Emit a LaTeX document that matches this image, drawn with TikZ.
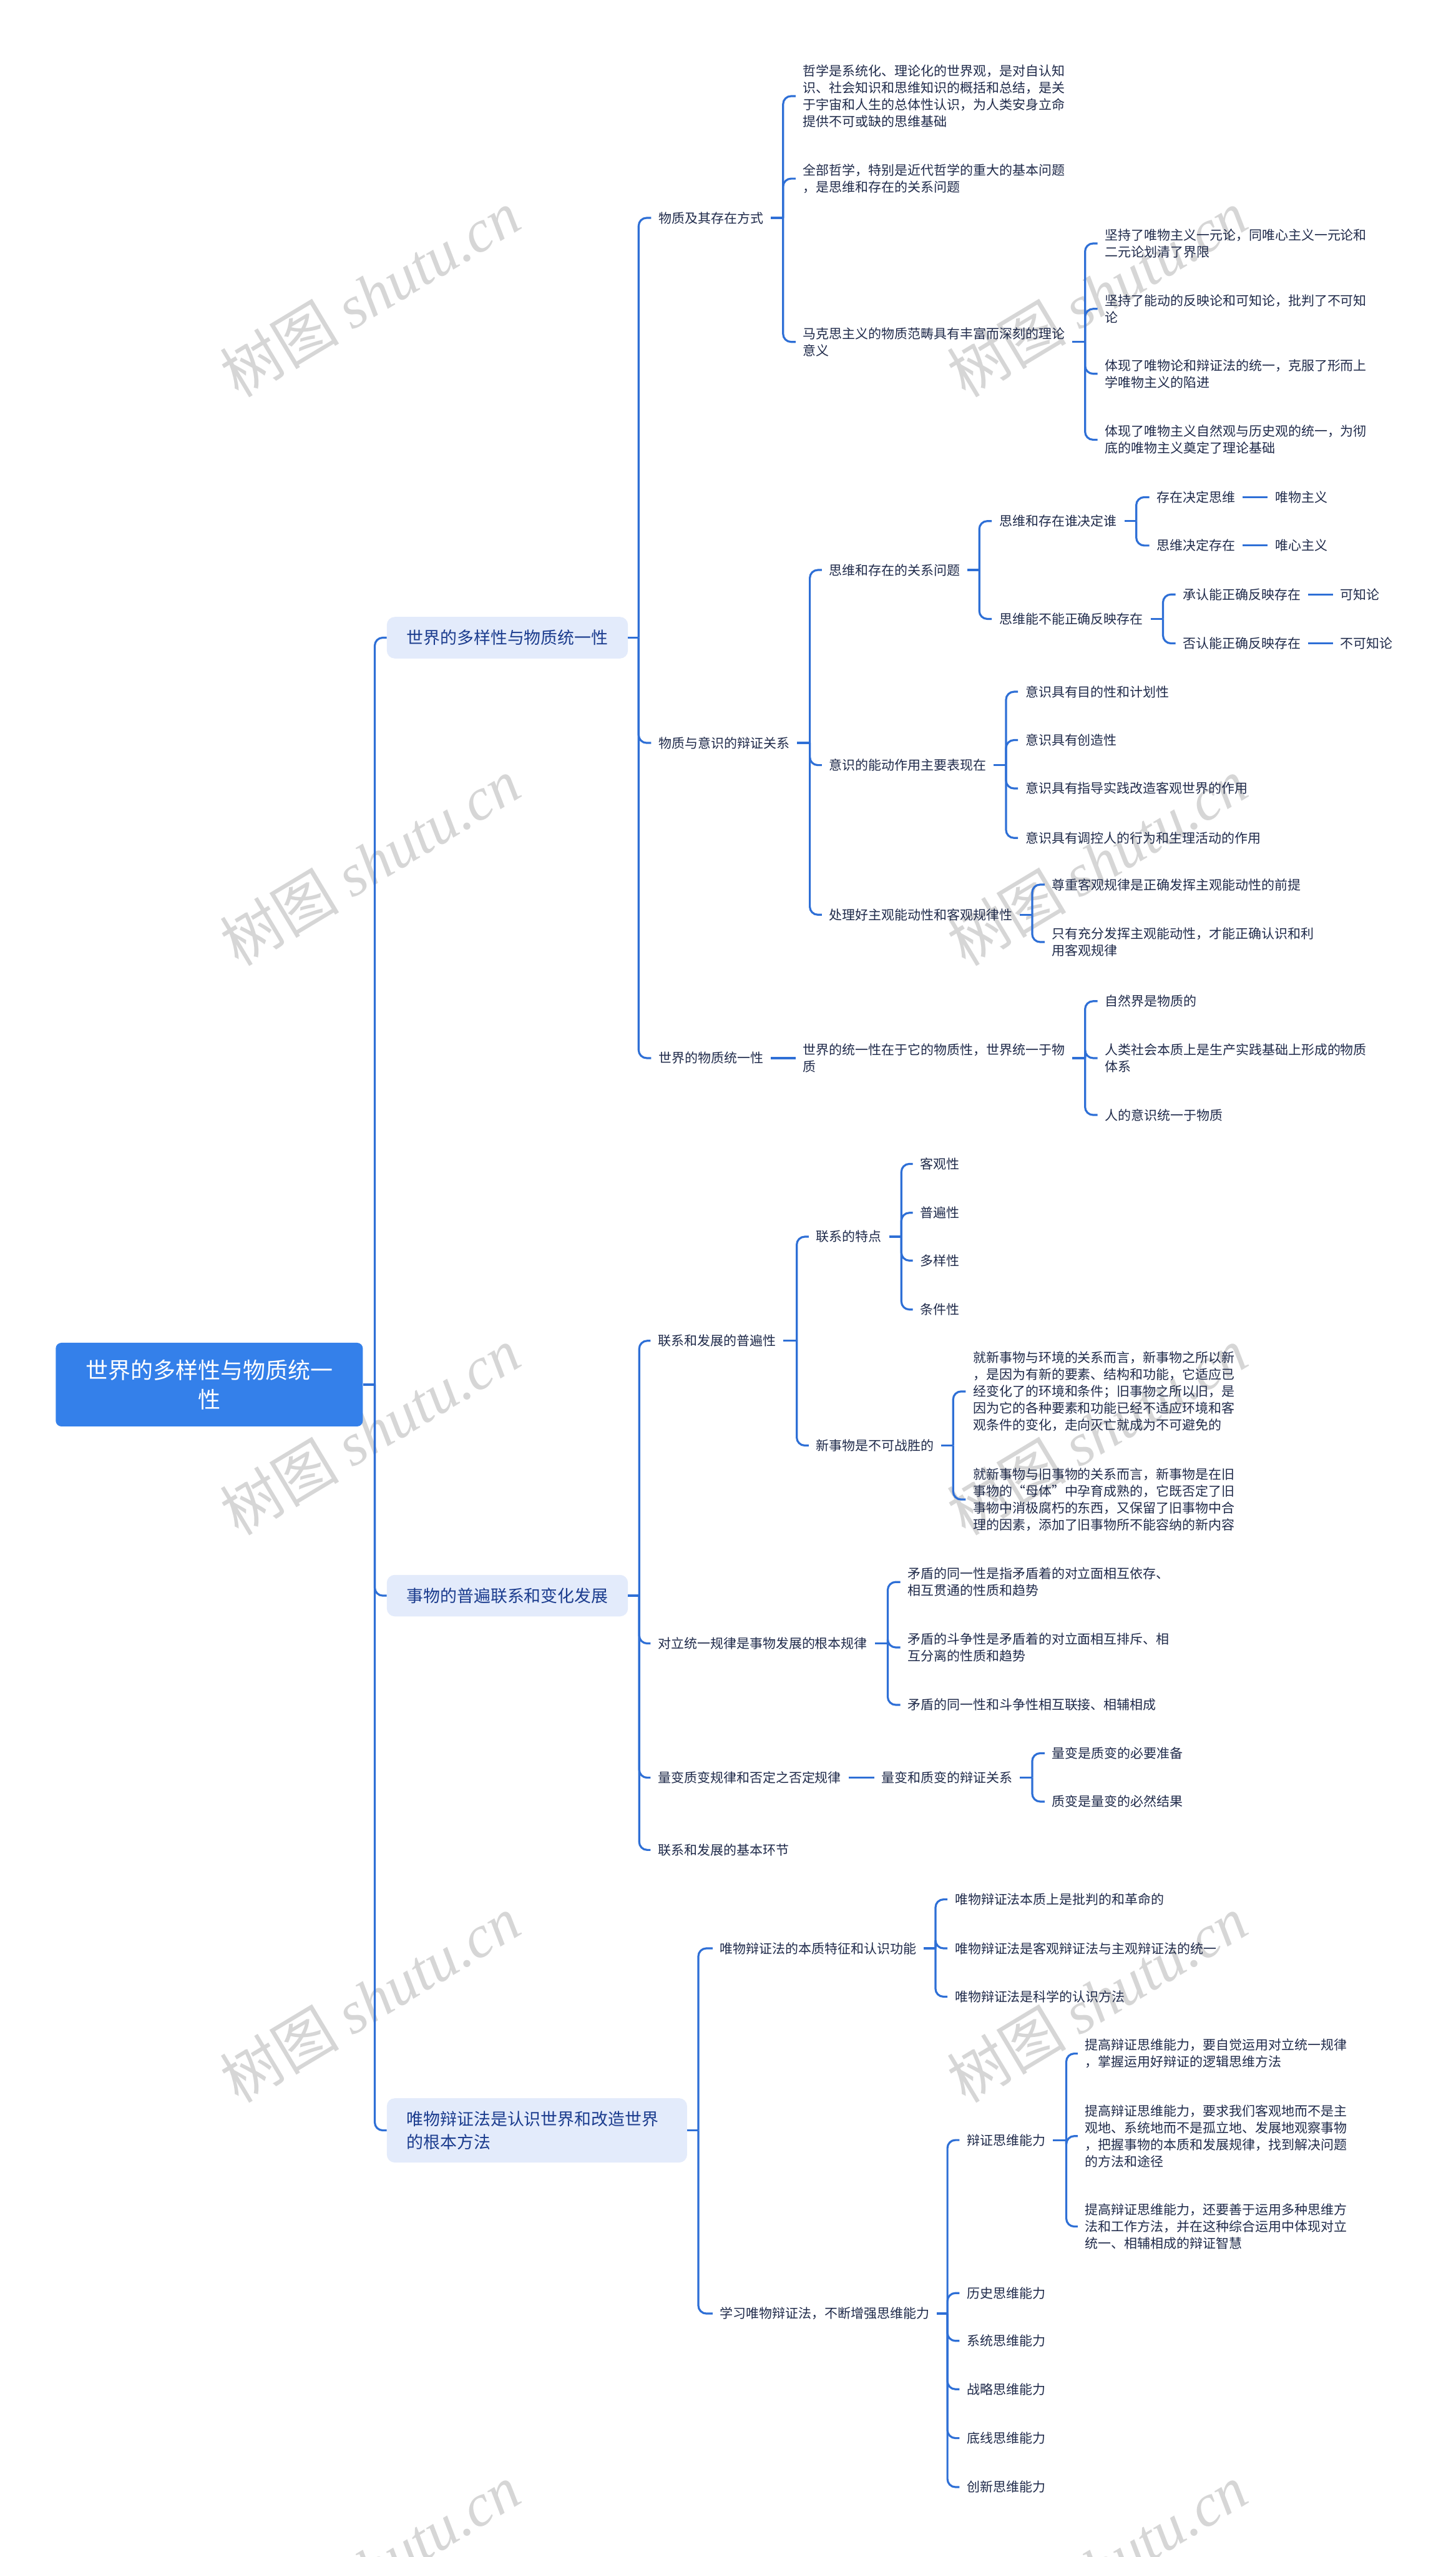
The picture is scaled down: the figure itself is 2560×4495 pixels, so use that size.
\documentclass[tikz,border=0pt]{standalone}
\usepackage{fontspec}
\setmainfont{Noto Sans CJK SC}
\newfontfamily\wmlatin{Liberation Serif}
\usetikzlibrary{calc}
\definecolor{linec}{HTML}{2E6FD6}
\definecolor{rootfill}{HTML}{3480EA}
\definecolor{lonefill}{HTML}{E3EBFB}
\definecolor{lonetext}{HTML}{1B3C8E}
\definecolor{leaftext}{HTML}{1F2A4A}
\definecolor{wmgray}{HTML}{D6D6D6}
\newcommand\mmbranch[3]{%
  \coordinate (mmv) at (#2,0);
  \draw[conn] (#1.east) -- (#1.east -| mmv);
  \foreach \mmc in {#3}{\draw[conn,rounded corners=14pt] (#1.east -| mmv) |- (\mmc.west);}%
}
\begin{document}
\begin{tikzpicture}[x=1pt,y=-1pt,
  conn/.style={draw=linec,line width=3.5pt},
  leaf/.style={anchor=west,inner xsep=13pt,inner ysep=2pt,align=left,text=leaftext,font=\fontsize{23}{29.5}\selectfont},
  rootbox/.style={fill=rootfill,rounded corners=10pt,minimum width=540pt,minimum height=147pt,inner sep=0pt,text=white,align=center,font=\fontsize{39.5}{52}\selectfont},
  lone/.style={anchor=west,fill=lonefill,rounded corners=14pt,minimum height=73pt,inner xsep=35pt,inner ysep=0pt,text=lonetext,align=center,font=\fontsize{29.5}{40}\selectfont},
  wm/.style={text=wmgray,rotate=31,inner sep=0pt,font=\fontsize{105}{105}\selectfont}]
\fill[white] (0,0) rectangle (2560,4495);
\useasboundingbox (0,0) rectangle (2560,4495);
% watermarks
\foreach \wx/\wy [count=\wi] in {650/516,650/1515,650/2516,650/3514,650/4514,1929/516,1929/1515,1929/2516,1929/3514,1929/4514}{
  \node[wm] (wm\wi) at (\wx,\wy) {树图 {\wmlatin\itshape shutu.cn}};
}
% root and level 1
\node[rootbox] (root) at (368,2434) {世界的多样性与物质统一\\性};
\node[lone,minimum width=422pt] (la) at (680,1121) {世界的多样性与物质统一性};
\node[lone,minimum width=422pt] (lb) at (680,2805) {事物的普遍联系和变化发展};
\node[lone,align=left,text width=458pt,minimum height=113pt] (lc) at (680,3745) {唯物辩证法是认识世界和改造世界\\的根本方法};
% ---------- branch A
\node[leaf] (a1) at (1145,383) {物质及其存在方式};
\node[leaf] (a11) at (1399,169) {哲学是系统化、理论化的世界观，是对自认知\\识、社会知识和思维知识的概括和总结，是关\\于宇宙和人生的总体性认识，为人类安身立命\\提供不可或缺的思维基础};
\node[leaf] (a12) at (1399,314) {全部哲学，特别是近代哲学的重大的基本问题\\，是思维和存在的关系问题};
\node[leaf] (a13) at (1399,601) {马克思主义的物质范畴具有丰富而深刻的理论\\意义};
\node[leaf] (a131) at (1930,428) {坚持了唯物主义一元论，同唯心主义一元论和\\二元论划清了界限};
\node[leaf] (a132) at (1930,543) {坚持了能动的反映论和可知论，批判了不可知\\论};
\node[leaf] (a133) at (1930,657) {体现了唯物论和辩证法的统一，克服了形而上\\学唯物主义的陷进};
\node[leaf] (a134) at (1930,773) {体现了唯物主义自然观与历史观的统一，为彻\\底的唯物主义奠定了理论基础};
\node[leaf] (a2) at (1145,1306) {物质与意识的辩证关系};
\node[leaf] (a21) at (1445,1002) {思维和存在的关系问题};
\node[leaf] (a211) at (1744,916) {思维和存在谁决定谁};
\node[leaf] (a2111) at (2021,874) {存在决定思维};
\node[leaf] (a2111r) at (2229,874) {唯物主义};
\node[leaf] (a2112) at (2021,959) {思维决定存在};
\node[leaf] (a2112r) at (2229,959) {唯心主义};
\node[leaf] (a212) at (1744,1088) {思维能不能正确反映存在};
\node[leaf] (a2121) at (2067,1045) {承认能正确反映存在};
\node[leaf] (a2121r) at (2344,1045) {可知论};
\node[leaf] (a2122) at (2067,1131) {否认能正确反映存在};
\node[leaf] (a2122r) at (2344,1131) {不可知论};
\node[leaf] (a22) at (1445,1345) {意识的能动作用主要表现在};
\node[leaf] (a221) at (1790,1216) {意识具有目的性和计划性};
\node[leaf] (a222) at (1790,1301) {意识具有创造性};
\node[leaf] (a223) at (1790,1386) {意识具有指导实践改造客观世界的作用};
\node[leaf] (a224) at (1790,1473) {意识具有调控人的行为和生理活动的作用};
\node[leaf] (a23) at (1445,1608) {处理好主观能动性和客观规律性};
\node[leaf] (a231) at (1837,1555) {尊重客观规律是正确发挥主观能动性的前提};
\node[leaf] (a232) at (1837,1656) {只有充分发挥主观能动性，才能正确认识和利\\用客观规律};
\node[leaf] (a3) at (1145,1860) {世界的物质统一性};
\node[leaf] (a31) at (1399,1860) {世界的统一性在于它的物质性，世界统一于物\\质};
\node[leaf] (a311) at (1930,1760) {自然界是物质的};
\node[leaf] (a312) at (1930,1860) {人类社会本质上是生产实践基础上形成的物质\\体系};
\node[leaf] (a313) at (1930,1960) {人的意识统一于物质};
% ---------- branch B
\node[leaf] (b1) at (1144,2357) {联系和发展的普遍性};
\node[leaf] (b11) at (1422,2174) {联系的特点};
\node[leaf] (b111) at (1605,2046) {客观性};
\node[leaf] (b112) at (1605,2132) {普遍性};
\node[leaf] (b113) at (1605,2216) {多样性};
\node[leaf] (b114) at (1605,2302) {条件性};
\node[leaf] (b12) at (1422,2541) {新事物是不可战胜的};
\node[leaf] (b121) at (1698,2446) {就新事物与环境的关系而言，新事物之所以新\\，是因为有新的要素、结构和功能，它适应已\\经变化了的环境和条件；旧事物之所以旧，是\\因为它的各种要素和功能已经不适应环境和客\\观条件的变化，走向灭亡就成为不可避免的};
\node[leaf] (b122) at (1698,2636) {就新事物与旧事物的关系而言，新事物是在旧\\事物的“母体”中孕育成熟的，它既否定了旧\\事物中消极腐朽的东西，又保留了旧事物中合\\理的因素，添加了旧事物所不能容纳的新内容};
\node[leaf] (b2) at (1144,2889) {对立统一规律是事物发展的根本规律};
\node[leaf] (b21) at (1583,2781) {矛盾的同一性是指矛盾着的对立面相互依存、\\相互贯通的性质和趋势};
\node[leaf] (b22) at (1583,2896) {矛盾的斗争性是矛盾着的对立面相互排斥、相\\互分离的性质和趋势};
\node[leaf] (b23) at (1583,2997) {矛盾的同一性和斗争性相互联接、相辅相成};
\node[leaf] (b3) at (1144,3125) {量变质变规律和否定之否定规律};
\node[leaf] (b31) at (1537,3125) {量变和质变的辩证关系};
\node[leaf] (b311) at (1837,3082) {量变是质变的必要准备};
\node[leaf] (b312) at (1837,3167) {质变是量变的必然结果};
\node[leaf] (b4) at (1144,3252) {联系和发展的基本环节};
% ---------- branch C
\node[leaf] (c1) at (1253,3425) {唯物辩证法的本质特征和认识功能};
\node[leaf] (c11) at (1666,3339) {唯物辩证法本质上是批判的和革命的};
\node[leaf] (c12) at (1666,3425) {唯物辩证法是客观辩证法与主观辩证法的统一};
\node[leaf] (c13) at (1666,3510) {唯物辩证法是科学的认识方法};
\node[leaf] (c2) at (1253,4067) {学习唯物辩证法，不断增强思维能力};
\node[leaf] (c21) at (1687,3762) {辩证思维能力};
\node[leaf] (c211) at (1895,3610) {提高辩证思维能力，要自觉运用对立统一规律\\，掌握运用好辩证的逻辑思维方法};
\node[leaf] (c212) at (1895,3755) {提高辩证思维能力，要求我们客观地而不是主\\观地、系统地而不是孤立地、发展地观察事物\\，把握事物的本质和发展规律，找到解决问题\\的方法和途径};
\node[leaf] (c213) at (1895,3914) {提高辩证思维能力，还要善于运用多种思维方\\法和工作方法，并在这种综合运用中体现对立\\统一、相辅相成的辩证智慧};
\node[leaf] (c22) at (1687,4031) {历史思维能力};
\node[leaf] (c23) at (1687,4115) {系统思维能力};
\node[leaf] (c24) at (1687,4200) {战略思维能力};
\node[leaf] (c25) at (1687,4286) {底线思维能力};
\node[leaf] (c26) at (1687,4372) {创新思维能力};
% ---------- connectors
\mmbranch{root}{659}{la,lb,lc}
\mmbranch{la}{1123}{a1,a2,a3}
\mmbranch{a1}{1377}{a11,a12,a13}
\mmbranch{a13}{1908}{a131,a132,a133,a134}
\mmbranch{a2}{1424}{a21,a22,a23}
\mmbranch{a21}{1722}{a211,a212}
\mmbranch{a211}{1998}{a2111,a2112}
\mmbranch{a212}{2045}{a2121,a2122}
\draw[conn] (a2111.east) -- (a2111r.west);
\draw[conn] (a2112.east) -- (a2112r.west);
\draw[conn] (a2121.east) -- (a2121r.west);
\draw[conn] (a2122.east) -- (a2122r.west);
\mmbranch{a22}{1769}{a221,a222,a223,a224}
\mmbranch{a23}{1815}{a231,a232}
\draw[conn] (a3.east) -- (a31.west);
\mmbranch{a31}{1908}{a311,a312,a313}
\mmbranch{lb}{1124}{b1,b2,b3,b4}
\mmbranch{b1}{1401}{b11,b12}
\mmbranch{b11}{1585}{b111,b112,b113,b114}
\mmbranch{b12}{1676}{b121,b122}
\mmbranch{b2}{1561}{b21,b22,b23}
\draw[conn] (b3.east) -- (b31.west);
\mmbranch{b31}{1815}{b311,b312}
\mmbranch{lc}{1228}{c1,c2}
\mmbranch{c1}{1645}{c11,c12,c13}
\mmbranch{c2}{1666}{c21,c22,c23,c24,c25,c26}
\mmbranch{c21}{1875}{c211,c212,c213}
\end{tikzpicture}
\end{document}
